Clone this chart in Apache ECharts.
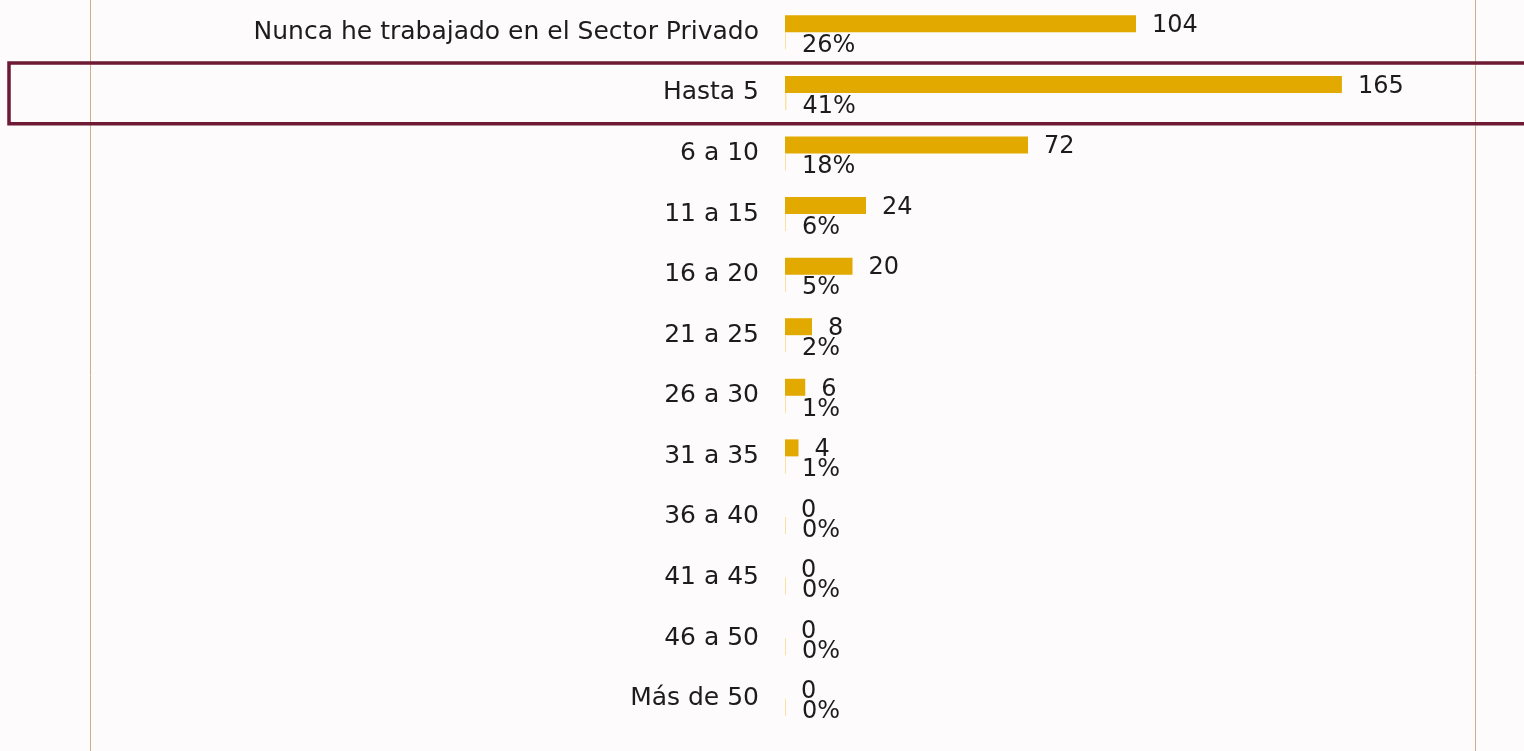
<!DOCTYPE html>
<html>
<head>
<meta charset="utf-8">
<script src="https://cdn.jsdelivr.net/npm/echarts@6/dist/echarts.min.js"></script>
<style>
	html, body { margin: 0; padding: 0; background: #fdfbfb; }
	#chart { width: 1524px; height: 751px; }
</style>
</head>
<body>
<div id="chart"></div>
<script>
(function() {
	'use strict';

	// categorias (de arriba hacia abajo)
	var categories = ['Nunca he trabajado en el Sector Privado', 'Hasta 5', '6 a 10', '11 a 15', '16 a 20',
		'21 a 25', '26 a 30', '31 a 35', '36 a 40', '41 a 45', '46 a 50', 'Más de 50'];
	// numero de respuestas
	var counts = [104, 165, 72, 24, 20, 8, 6, 4, 0, 0, 0, 0];
	// porcentaje (etiqueta)
	var percents = [26, 41, 18, 6, 5, 2, 1, 1, 0, 0, 0, 0];
	var highlightCategory = 'Hasta 5';

	var fontName = '"DejaVu Sans", sans-serif';
	var textColor = '#1c1c1c';

	var chart = echarts.init(document.getElementById('chart'));

	var option = {
		backgroundColor: '#fdfbfb',
		animation: false,
		grid: {
			left: 785,
			right: 64,
			top: 2,
			bottom: 22
		},
		xAxis: {
			type: 'value',
			min: 0,
			max: 200,
			show: false
		},
		yAxis: {
			type: 'category',
			inverse: true,
			data: categories,
			axisLine: { show: false },
			axisTick: { show: false },
			axisLabel: {
				margin: 26,
				fontFamily: fontName,
				fontSize: 25,
				color: textColor,
				padding: [3, 0, 0, 0]
			}
		},
		series: [{
			name: 'Respuestas',
			type: 'bar',
			data: counts,
			barWidth: 17,
			barGap: '0%',
			itemStyle: { color: '#e2a900' },
			label: {
				show: true,
				position: 'right',
				distance: 16,
				offset: [0, 2],
				fontFamily: fontName,
				fontSize: 24,
				color: textColor
			}
		}, {
			name: 'Porcentaje',
			type: 'bar',
			data: percents.map(function(p) { return p / 100; }),
			barWidth: 17,
			barMinHeight: 1,
			itemStyle: { color: '#f9e2a0' },
			label: {
				show: true,
				position: 'right',
				distance: 16,
				offset: [0, 5],
				fontFamily: fontName,
				fontSize: 24,
				color: textColor,
				formatter: function(p) { return percents[p.dataIndex] + '%'; }
			}
		}]
	};
	chart.setOption(option);

	// lineas verticales y recuadro de la categoria destacada
	var idx = categories.indexOf(highlightCategory);
	var yTop = chart.convertToPixel({ yAxisIndex: 0 }, idx - 0.5);
	var yBot = chart.convertToPixel({ yAxisIndex: 0 }, idx + 0.5);
	var band = chart.convertToPixel({ yAxisIndex: 0 }, categories[idx]);
	var half = Math.abs(yBot - yTop) / 2 || 30;
	chart.setOption({
		graphic: [{
			type: 'line',
			shape: { x1: 90.5, y1: 0, x2: 90.5, y2: 751 },
			style: { stroke: '#cfae87', lineWidth: 1 },
			z: -1
		}, {
			type: 'line',
			shape: { x1: 1475.5, y1: 0, x2: 1475.5, y2: 751 },
			style: { stroke: '#cfae87', lineWidth: 1 },
			z: -1
		}, {
			type: 'rect',
			shape: { x: 9, y: band - half + 0.5, width: 1530, height: half * 2 },
			style: { fill: null, stroke: '#6e1a34', lineWidth: 3.5 },
			z: 10
		}]
	});
})();
</script>
</body>
</html>
